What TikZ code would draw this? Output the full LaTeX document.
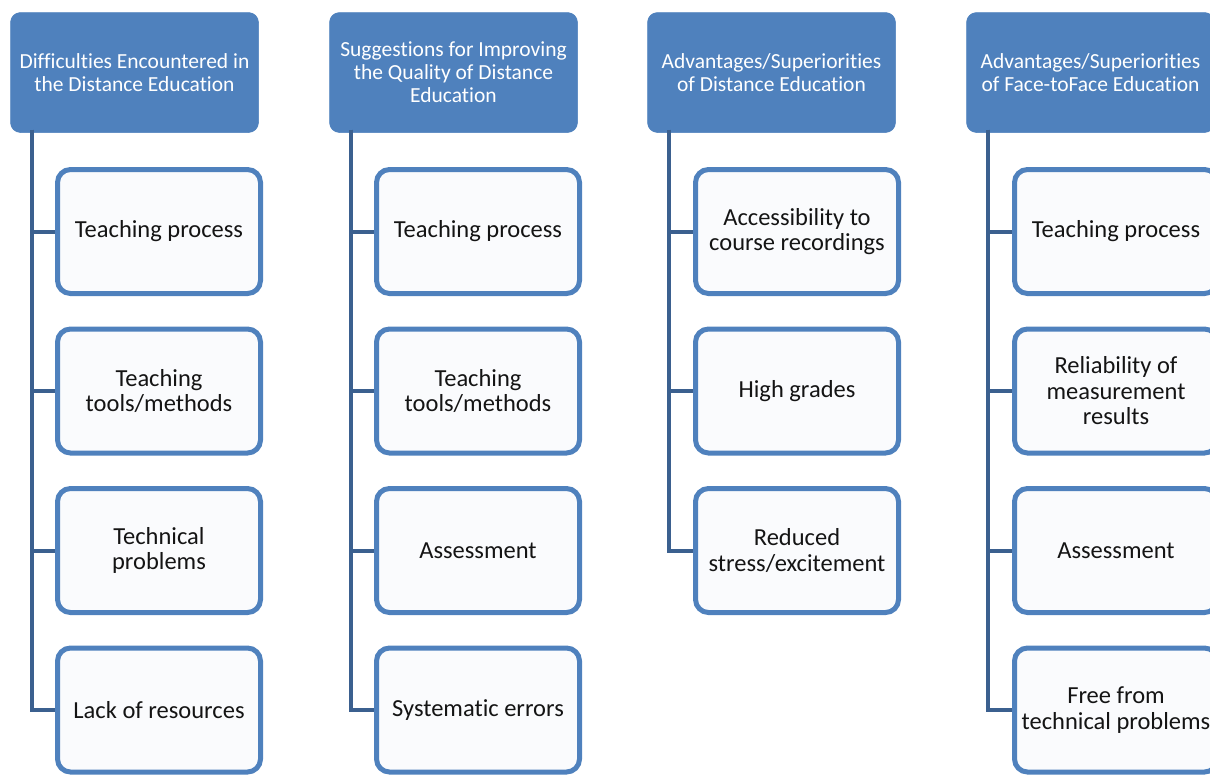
\documentclass[tikz,border=0pt]{standalone}
\usepackage{fontspec}
\setmainfont{Carlito}[Ligatures=NoCommon]
\usepackage{xcolor}
\usepackage{tikz}
\usetikzlibrary{positioning}
\definecolor{headblue}{RGB}{79,129,189}
\definecolor{rimblue}{RGB}{79,129,189}
\definecolor{spineblue}{RGB}{59,96,143}
\definecolor{paperfill}{RGB}{250,251,253}
\definecolor{ink}{RGB}{20,20,20}
\tikzset{
  head/.style={fill=headblue,draw=headblue,line width=0.5pt,rounded corners=10pt,minimum width=248pt,minimum height=120pt,align=center,text=white,font=\fontsize{21.5}{23}\selectfont,inner sep=2pt},
  item/.style={fill=paperfill,draw=rimblue,line width=5pt,rounded corners=13pt,minimum width=203pt,minimum height=124pt,align=center,text=ink,font=\fontsize{24.5}{25.5}\selectfont,inner sep=2pt},
  link/.style={draw=spineblue,line width=4pt}
}

\begin{document}
\begin{tikzpicture}[x=1pt,y=-1pt]
  \useasboundingbox (0,0) rectangle (1210,774);
  \clip (0,0) rectangle (1210,774);
  % headers
  \node[head] (h1) at (134.5,72.5) {Difficulties Encountered in\\the Distance Education};
  \node[head] (h2) at (453.5,72.5) {Suggestions for Improving\\the Quality of Distance\\Education};
  \node[head] (h3) at (771.5,72.5) {Advantages/Superiorities\\of Distance Education};
  \node[head] (h4) at (1090.5,72.5) {Advantages/Superiorities\\of Face-toFace Education};
  % column 1
  \node[item] (c11) at (159,231.5) {Teaching process};
  \node[item] (c12) at (159,391) {Teaching\\tools/methods};
  \node[item] (c13) at (159,550.5) {Technical\\problems};
  \node[item] (c14) at (159,710) {Lack of resources};
  % column 2
  \node[item] (c21) at (478,231.5) {Teaching process};
  \node[item] (c22) at (478,391) {Teaching\\tools/methods};
  \node[item] (c23) at (478,550.5) {Assessment};
  \node[item] (c24) at (478,710) {Systematic errors};
  % column 3
  \node[item] (c31) at (797,231.5) {Accessibility to\\course recordings};
  \node[item] (c32) at (797,391) {High grades};
  \node[item] (c33) at (797,550.5) {Reduced\\stress/excitement};
  % column 4
  \node[item] (c41) at (1116,231.5) {Teaching process};
  \node[item] (c42) at (1116,391) {Reliability of\\measurement\\results};
  \node[item] (c43) at (1116,550.5) {Assessment};
  \node[item] (c44) at (1116,710) {Free from\\technical problems};
  % connectors
  \draw[link] ([xshift=22pt,yshift=3pt]h1.south west) |- (c11.west);
  \draw[link] ([xshift=22pt,yshift=3pt]h1.south west) |- (c12.west);
  \draw[link] ([xshift=22pt,yshift=3pt]h1.south west) |- (c13.west);
  \draw[link] ([xshift=22pt,yshift=3pt]h1.south west) |- (c14.west);
  \draw[link] ([xshift=22pt,yshift=3pt]h2.south west) |- (c21.west);
  \draw[link] ([xshift=22pt,yshift=3pt]h2.south west) |- (c22.west);
  \draw[link] ([xshift=22pt,yshift=3pt]h2.south west) |- (c23.west);
  \draw[link] ([xshift=22pt,yshift=3pt]h2.south west) |- (c24.west);
  \draw[link] ([xshift=22pt,yshift=3pt]h3.south west) |- (c31.west);
  \draw[link] ([xshift=22pt,yshift=3pt]h3.south west) |- (c32.west);
  \draw[link] ([xshift=22pt,yshift=3pt]h3.south west) |- (c33.west);
  \draw[link] ([xshift=22pt,yshift=3pt]h4.south west) |- (c41.west);
  \draw[link] ([xshift=22pt,yshift=3pt]h4.south west) |- (c42.west);
  \draw[link] ([xshift=22pt,yshift=3pt]h4.south west) |- (c43.west);
  \draw[link] ([xshift=22pt,yshift=3pt]h4.south west) |- (c44.west);
\end{tikzpicture}
\end{document}
